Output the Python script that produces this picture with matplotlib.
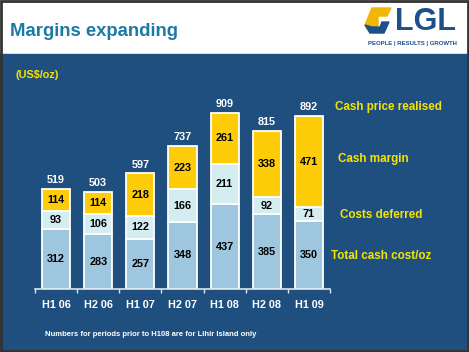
import matplotlib.pyplot as plt
import matplotlib.patches as mpatches
import numpy as np

periods = ['H1 06', 'H2 06', 'H1 07', 'H2 07', 'H1 08', 'H2 08', 'H1 09']
cash_cost = [312, 283, 257, 348, 437, 385, 350]
deferred = [93, 106, 122, 166, 211, 92, 71]
margin = [114, 114, 218, 223, 261, 338, 471]
price = [519, 503, 597, 737, 909, 815, 892]

legend_labels = ['Total cash cost/oz', 'Costs deferred', 'Cash margin', 'Cash price realised']

W, H = 469, 352
fig = plt.figure(figsize=(W / 100, H / 100), dpi=100)
fig.patch.set_facecolor('#1f4f7f')

# background panels
bg = fig.add_axes([0, 0, 1, 1], zorder=0)
bg.set_xlim(0, W)
bg.set_ylim(H, 0)
bg.axis('off')
bg.add_patch(mpatches.Rectangle((0, 0), W, 54, color='white'))
bg.add_patch(mpatches.Rectangle((0, 54), W, H - 54, color='#1f4f7f'))
bg.add_patch(mpatches.Rectangle((1, 1), W - 2, H - 2, fill=False, ec='#333333', lw=2))

bg.text(10, 31, 'Margins expanding', color='#1b7aa6', fontsize=13.3,
        fontweight='bold', va='center', ha='left', family='Liberation Sans')
bg.text(16, 75, '(US$/oz)', color='#f5e400', fontsize=7.8, fontweight='bold',
        va='center', ha='left', family='Liberation Sans')

# logo
bg.add_patch(mpatches.Polygon([[372, 8], [391, 8], [387, 16], [378, 16], [378, 25], [370, 33], [365, 25]],
                              closed=True, color='#f2b705'))
bg.add_patch(mpatches.Polygon([[365, 25], [370, 33], [384, 33], [389, 22], [382, 22], [380, 27], [372, 27]],
                              closed=True, color='#1c4f8c'))
bg.text(395, 22, 'LGL', color='#1c4f8c', fontsize=22, fontweight='bold',
        va='center', ha='left', family='Liberation Sans')
bg.text(412, 43, 'PEOPLE | RESULTS | GROWTH', color='#1c4f8c', fontsize=4.3,
        fontweight='bold', va='center', ha='center', family='Liberation Sans')

# chart axes
x0, x1, yb, yt = 35, 330, 289, 100
ax = fig.add_axes([x0 / W, (H - yb) / H, (x1 - x0) / W, (yb - yt) / H], zorder=1)
ax.patch.set_alpha(0)
px_per_unit = 0.1936
ax.set_ylim(0, (yb - yt) / px_per_unit)
ax.set_xlim(-0.5, len(periods) - 0.5)

x = np.arange(len(periods))
cc = np.array(cash_cost)
dd = np.array(deferred)
mm = np.array(margin)
wid = 0.67
ekw = dict(edgecolor='white', linewidth=1.3, width=wid)
ax.bar(x, cc, color='#9fc6df', **ekw)
ax.bar(x, dd, bottom=cc, color='#d4edf0', **ekw)
ax.bar(x, mm, bottom=cc + dd, color='#ffcc0a', **ekw)

lab = dict(ha='center', va='center', fontsize=7.8, fontweight='bold', color='black',
           family='Liberation Sans')
for i in range(len(periods)):
    ax.text(x[i], cc[i] / 2, str(cash_cost[i]), **lab)
    ax.text(x[i], cc[i] + dd[i] / 2, str(deferred[i]), **lab)
    ax.text(x[i], cc[i] + dd[i] + mm[i] / 2, str(margin[i]), **lab)
    ax.text(x[i], price[i] + 20, str(price[i]), ha='center', va='bottom', fontsize=7.8,
            fontweight='bold', color='white', family='Liberation Sans')

for s in ['top', 'right', 'left']:
    ax.spines[s].set_visible(False)
ax.spines['bottom'].set_color('#dde6ee')
ax.spines['bottom'].set_linewidth(1.2)
ax.set_yticks([])
ax.set_xticks(np.arange(-0.5, len(periods), 1.0))
ax.set_xticklabels([])
ax.tick_params(axis='x', colors='#dde6ee', length=3, width=1, direction='out')
for i, p in enumerate(periods):
    ax.text(x[i], -16 / px_per_unit, p, ha='center', va='center', fontsize=7.8, fontweight='bold',
            color='white', family='Liberation Sans', clip_on=False)

# series labels at right
ylab = [256, 215, 159, 107]
xlab = [331, 340, 338, 335]
for t, yy, xx in zip(legend_labels, ylab, xlab):
    bg.text(xx, yy, t, color='#f5e400', fontsize=8.4, fontweight='bold',
            va='center', ha='left', family='Liberation Sans')

bg.text(45, 335, 'Numbers for periods prior to H108 are for Lihir Island only', color='white',
        fontsize=5.5, fontweight='bold', va='center', ha='left', family='Liberation Sans')

fig.savefig('out.png', dpi=100, facecolor=fig.get_facecolor())
